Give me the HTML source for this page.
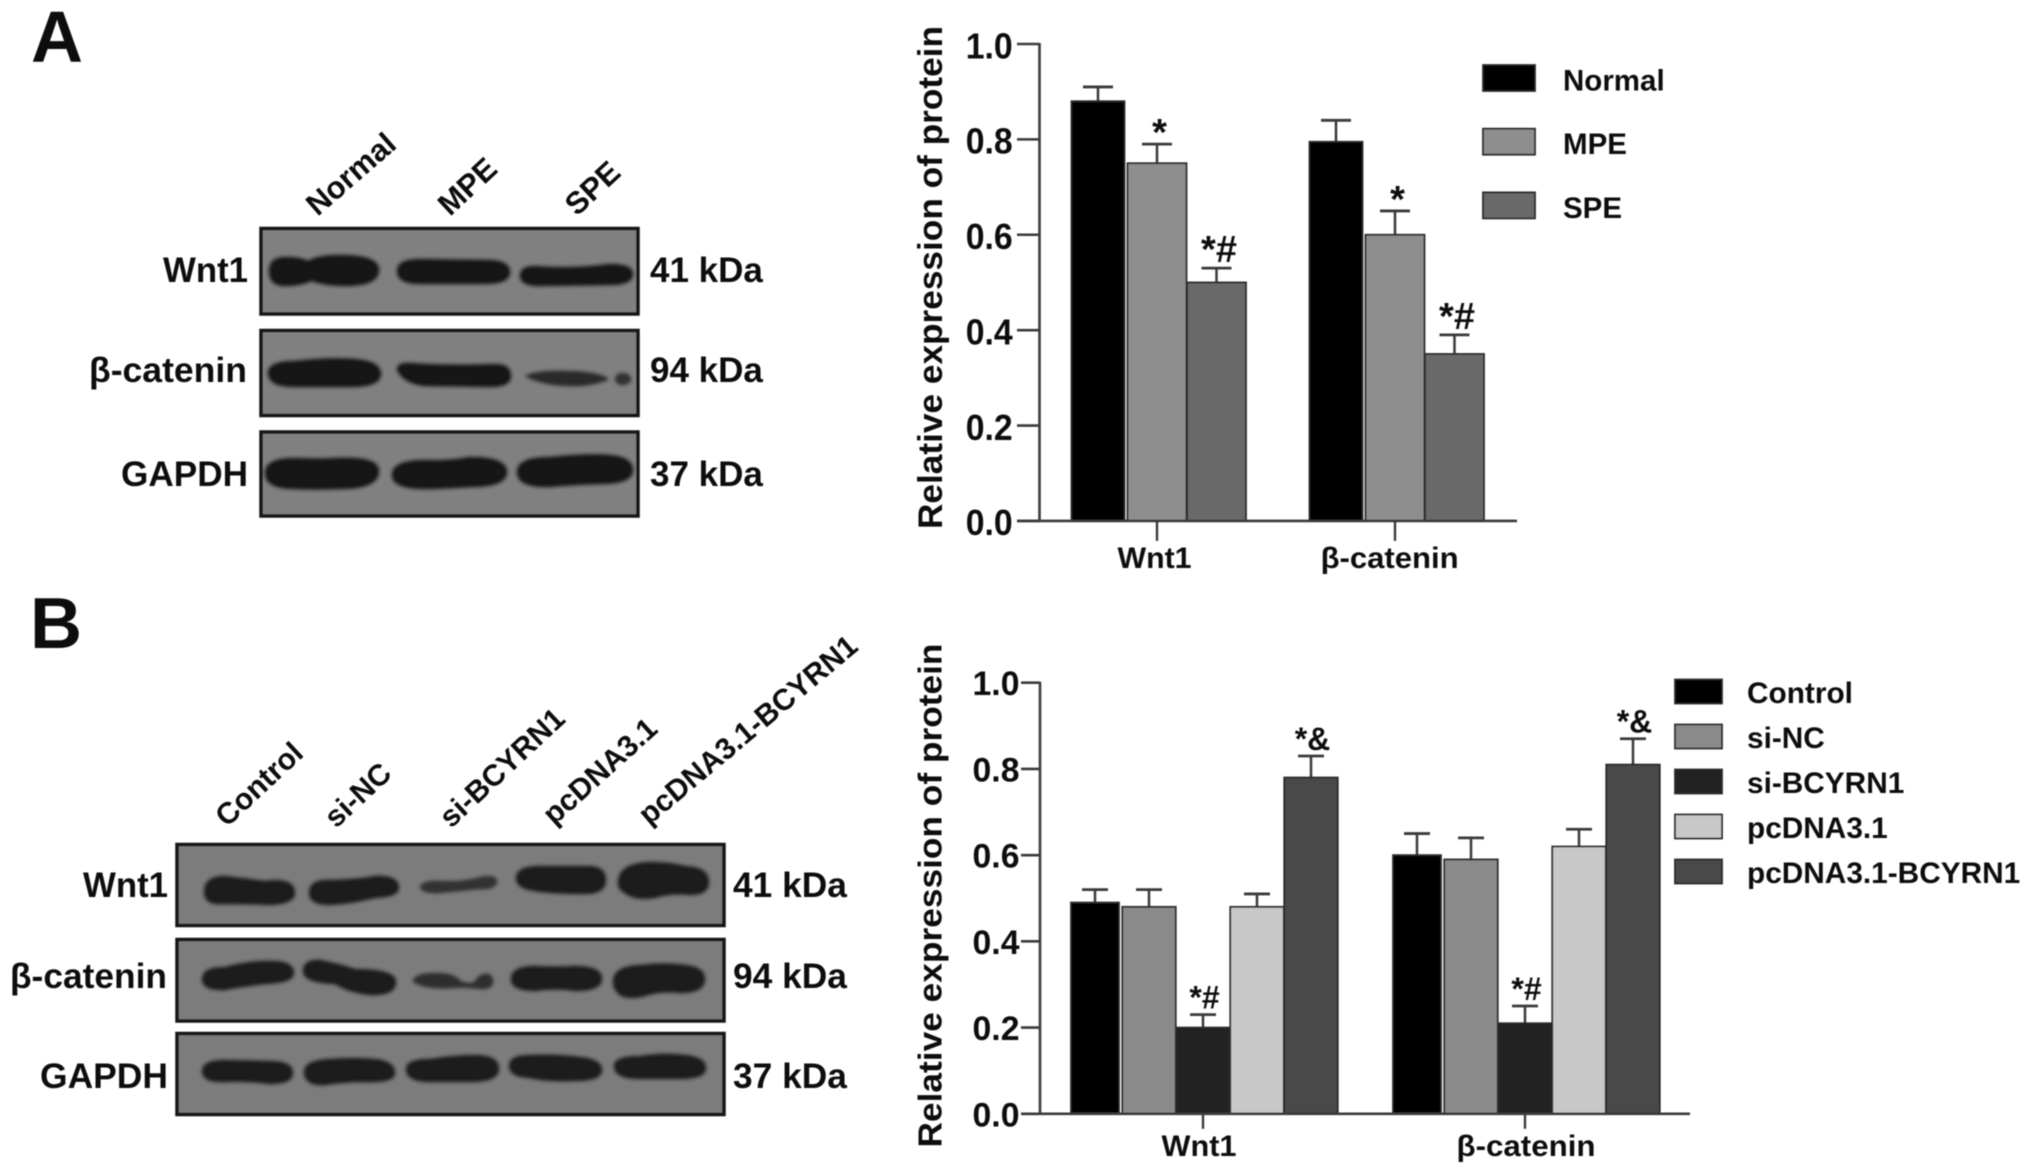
<!DOCTYPE html>
<html lang="en">
<head>
<meta charset="utf-8">
<title>Western blots and relative protein expression</title>
<style>
html,body{margin:0;padding:0;background:#fff;}
#figure{display:block;width:2031px;height:1175px;}
text{font-family:"Liberation Sans",Arial,sans-serif;font-weight:bold;fill:#111;}
</style>
</head>
<body>
<svg id="figure" xmlns="http://www.w3.org/2000/svg" width="2031" height="1175" viewBox="0 0 2031 1175">
<defs>
<filter id="bandBlur" x="-20%" y="-60%" width="140%" height="220%"><feGaussianBlur stdDeviation="1.9"/></filter>
<filter id="softBlur" filterUnits="userSpaceOnUse" x="0" y="0" width="2031" height="1175"><feGaussianBlur stdDeviation="0.5"/></filter>
</defs>
<rect x="0" y="0" width="2031" height="1175" fill="#fff"/>
<g filter="url(#softBlur)">

<text x="31" y="61.5" font-size="72">A</text>
<text x="30" y="648" font-size="72">B</text>

<g>
  <g font-size="31">
    <text transform="translate(317.5 217) rotate(-41)">Normal</text>
    <text transform="translate(450 217) rotate(-43)">MPE</text>
    <text transform="translate(577 217) rotate(-43)">SPE</text>
  </g>
  <rect x="261" y="228.5" width="377" height="85.5" fill="#808080" stroke="#151515" stroke-width="3.5"/>
  <rect x="261" y="330.5" width="377" height="85" fill="#808080" stroke="#151515" stroke-width="3.5"/>
  <rect x="261" y="432" width="377" height="84" fill="#808080" stroke="#151515" stroke-width="3.5"/>
  <g fill="#141414" stroke="#141414" stroke-width="2.5" stroke-linejoin="round" filter="url(#bandBlur)">
    <path d="M270 271Q270 258 286 258Q300 258 308 262Q318 256 340 256Q378 256 378 270Q378 285 345 285Q325 285 312 280Q300 285 285 285Q270 285 270 271Z"/>
    <path d="M398 271Q398 260 420 260L490 261Q509 262 509 272Q509 283 485 283L420 283Q398 283 398 271Z"/>
    <path d="M521 276Q521 267 535 267Q570 270 610 265Q632 265 632 274Q632 284 610 284L540 285Q521 285 521 276Z"/>
    <path d="M269 373Q269 362 295 362Q330 358 355 360Q380 362 380 374Q380 386 350 386L295 386Q269 386 269 373Z"/>
    <path d="M398 370Q398 363 410 364Q450 367 495 365Q510 365 510 376Q510 386 490 386L425 385Q405 383 398 370Z"/>
    <path d="M527 376Q540 371 565 372Q595 372 607 379Q590 386 570 385Q545 385 527 376Z" fill="#2a2a2a" stroke="#2a2a2a"/>
    <ellipse cx="623" cy="379" rx="7" ry="5" fill="#333" stroke="#333"/>
    <path d="M266 473Q266 459 295 459Q320 460 335 459Q378 457 378 471Q378 488 340 488Q310 489 295 488Q266 488 266 473Z"/>
    <path d="M393 475Q393 461 425 461Q450 462 470 458Q506 458 506 472Q506 486 470 486Q440 488 425 488Q393 488 393 475Z"/>
    <path d="M518 472Q518 458 550 458Q590 454 610 456Q632 458 632 470Q632 483 600 483Q570 484 550 486Q518 487 518 472Z"/>
  </g>
  <g font-size="35" text-anchor="end">
    <text x="248" y="282" textLength="85" lengthAdjust="spacingAndGlyphs">Wnt1</text>
    <text x="247" y="382" textLength="158" lengthAdjust="spacingAndGlyphs">β-catenin</text>
    <text x="248" y="486" textLength="127" lengthAdjust="spacingAndGlyphs">GAPDH</text>
  </g>
  <g font-size="35">
    <text x="650" y="282">41 kDa</text>
    <text x="650" y="382">94 kDa</text>
    <text x="650" y="486">37 kDa</text>
  </g>
</g>

<g>
  <g font-size="30">
    <text transform="translate(227 828) rotate(-43)">Control</text>
    <text transform="translate(336 829) rotate(-43)">si-NC</text>
    <text transform="translate(451 829) rotate(-43)">si-BCYRN1</text>
    <text transform="translate(554 826) rotate(-42)">pcDNA3.1</text>
    <text transform="translate(649 826) rotate(-40)">pcDNA3.1-BCYRN1</text>
  </g>
  <rect x="177" y="844.5" width="547" height="81" fill="#7c7c7c" stroke="#151515" stroke-width="3.5"/>
  <rect x="177" y="939.5" width="547" height="81.5" fill="#7c7c7c" stroke="#151515" stroke-width="3.5"/>
  <rect x="177" y="1033.5" width="547" height="81" fill="#7c7c7c" stroke="#151515" stroke-width="3.5"/>
  <g fill="#1e1e1e" stroke="#1e1e1e" stroke-width="2.5" stroke-linejoin="round" filter="url(#bandBlur)">
    <path d="M205 892Q205 877 225 877Q250 880 265 882Q294 878 294 893Q294 903 270 904Q245 903 225 903Q205 905 205 892Z"/>
    <path d="M310 893Q310 880 330 881Q360 880 375 877Q398 876 398 888Q398 896 375 897Q350 903 330 904Q310 904 310 893Z"/>
    <path d="M421 887Q424 881 440 882Q465 883 480 878Q496 875 496 882Q494 889 480 888Q460 890 440 892Q423 893 421 887Z" fill="#303030" stroke="#303030"/>
    <path d="M517 878Q517 866 545 867Q575 867 590 867Q605 868 605 880Q605 893 585 893Q550 893 535 890Q517 888 517 878Z"/>
    <path d="M619 883Q619 864 650 863Q670 863 685 867Q708 868 708 882Q708 894 690 894Q670 892 655 897Q635 900 625 892Q619 889 619 883Z"/>
    <path d="M203 979Q203 968 225 968Q250 961 275 962Q293 963 293 973Q293 982 265 983Q240 986 225 989Q203 990 203 979Z"/>
    <path d="M304 971Q304 960 320 961Q340 965 355 970Q395 970 395 982Q395 995 370 994Q350 992 335 983Q304 982 304 971Z"/>
    <path d="M414 981Q416 974 435 974Q455 974 460 982Q470 986 476 982Q480 974 488 975Q493 978 492 983Q490 989 480 988Q465 986 455 987Q425 989 414 981Z" fill="#2e2e2e" stroke="#2e2e2e"/>
    <path d="M512 979Q512 967 535 967Q555 968 575 967Q601 967 601 979Q601 990 575 990Q555 987 535 990Q512 990 512 979Z"/>
    <path d="M614 982Q614 967 640 966Q665 963 685 966Q704 968 704 979Q704 992 680 992Q660 990 645 995Q625 1000 618 992Q614 988 614 982Z"/>
    <path d="M203 1071Q203 1061 225 1061L270 1062Q292 1062 292 1073Q292 1083 270 1083Q245 1080 225 1081Q203 1082 203 1071Z"/>
    <path d="M305 1072Q305 1061 330 1060Q355 1058 375 1060Q394 1062 394 1073Q394 1082 365 1081Q345 1081 325 1084Q305 1085 305 1072Z"/>
    <path d="M407 1069Q407 1060 430 1060Q455 1056 475 1056Q498 1056 498 1069Q498 1081 470 1081L430 1081Q407 1081 407 1069Z"/>
    <path d="M510 1066Q510 1056 530 1056Q560 1055 580 1058Q601 1060 601 1070Q601 1080 575 1080Q545 1081 530 1077Q510 1076 510 1066Z"/>
    <path d="M615 1066Q615 1057 640 1057Q665 1053 685 1056Q705 1058 705 1068Q705 1078 680 1078L640 1078Q615 1078 615 1066Z"/>
  </g>
  <g font-size="35" text-anchor="end">
    <text x="168" y="897" textLength="85" lengthAdjust="spacingAndGlyphs">Wnt1</text>
    <text x="167" y="988" textLength="157" lengthAdjust="spacingAndGlyphs">β-catenin</text>
    <text x="168" y="1088" textLength="128" lengthAdjust="spacingAndGlyphs">GAPDH</text>
  </g>
  <g font-size="35.3">
    <text x="733" y="897">41 kDa</text>
    <text x="733" y="988">94 kDa</text>
    <text x="733" y="1088">37 kDa</text>
  </g>
</g>

<g id="chart-a"></g>
<g id="chart-b"></g>
</g>
</svg>

<script>
// Panel A data
const categoriesA = ['Wnt1', 'β-catenin'];
const seriesNamesA = ['Normal', 'MPE', 'SPE'];
const wnt1ValuesA = [0.88, 0.75, 0.50];
const catheninValuesA = [0.795, 0.60, 0.35];
const wnt1ErrorTopsA = [0.91, 0.79, 0.53];
const catheninErrorTopsA = [0.84, 0.65, 0.39];
const wnt1MarksA = ['', '*', '*#'];
const catheninMarksA = ['', '*', '*#'];
const tickLabelsA = ['0.0', '0.2', '0.4', '0.6', '0.8', '1.0'];

// Panel B data
const categoriesB = ['Wnt1', 'β-catenin'];
const seriesNamesB = ['Control', 'si-NC', 'si-BCYRN1', 'pcDNA3.1', 'pcDNA3.1-BCYRN1'];
const wnt1ValuesB = [0.49, 0.48, 0.20, 0.48, 0.78];
const catheninValuesB = [0.60, 0.59, 0.21, 0.62, 0.81];
const wnt1ErrorTopsB = [0.52, 0.52, 0.23, 0.51, 0.83];
const catheninErrorTopsB = [0.65, 0.64, 0.25, 0.66, 0.87];
const wnt1MarksB = ['', '', '*#', '', '*&'];
const catheninMarksB = ['', '', '*#', '', '*&'];
const tickLabelsB = ['0.0', '0.2', '0.4', '0.6', '0.8', '1.0'];

const SVG_NS = 'http://www.w3.org/2000/svg';
function mk(tag, attrs, parent, txt) {
  const el = document.createElementNS(SVG_NS, tag);
  for (const k in attrs) el.setAttribute(k, attrs[k]);
  if (txt !== undefined) el.textContent = txt;
  parent.appendChild(el);
  return el;
}
function slug(s) {
  return s.toLowerCase().replace('β', 'beta').replace(/[^a-z0-9]+/g, '-');
}

function drawChart(root, layout, categories, seriesNames, values, errorTops, marks, tickLabels) {
  const yScale = v => layout.y0 - v * (layout.y0 - layout.y1);
  const groupX = i => layout.gx0 + i * layout.gStep;
  const barX = (i, s) => groupX(i) + (s - (seriesNames.length - 1) / 2) * layout.barStep + (s === 0 ? layout.firstShift : 0);
  const axisColor = '#3a3a3a';

  // bars, error bars, annotations
  categories.forEach((cat, i) => {
    seriesNames.forEach((name, s) => {
      const w = s === 0 ? layout.firstWidth : layout.barWidth;
      const cx = barX(i, s);
      const top = yScale(values[i][s]);
      const errTop = yScale(errorTops[i][s]);
      const stem = mk('line', {x1: cx, x2: cx, y1: top, y2: errTop, stroke: axisColor, 'stroke-width': 2.5}, root);
      
      
      const cap = mk('line', {x1: cx - layout.capHalf, x2: cx + layout.capHalf, y1: errTop, y2: errTop, stroke: axisColor, 'stroke-width': 2.8}, root);
      
      
      const bar = mk('rect', {x: cx - w / 2, y: top, width: w, height: yScale(0) - top, fill: layout.colors[s], stroke: '#2c2c2c', 'stroke-width': 1.8}, root);
      
      
      const m = marks[i][s];
      if (m) {
        const by = errTop + (m === '*' ? 1 : -6);
        const mark = mk('text', {x: cx + layout.markDx, y: by, 'font-size': layout.markSize, 'text-anchor': 'middle'}, root, m);
        
        
      }
    });
  });

  // y axis
  const yAxis = mk('line', {x1: layout.axisX, x2: layout.axisX, y1: yScale(1) - 1, y2: yScale(0) + 1, stroke: axisColor, 'stroke-width': 2.6}, root);
  
  
  tickLabels.forEach(label => {
    const v = parseFloat(label);
    const y = yScale(v);
    const t = mk('line', {x1: layout.tickLeft, x2: layout.axisX, y1: y, y2: y, stroke: axisColor, 'stroke-width': 2.6}, root);
    
    
    const l = mk('text', {x: layout.tickLabelRight, y: y + layout.tickLabelDy, 'font-size': layout.tickSize, 'text-anchor': 'end', textLength: layout.tickLabelWidth, lengthAdjust: 'spacingAndGlyphs'}, root, label);
    
    
  });

  // x axis
  const xAxis = mk('line', {x1: layout.tickLeft, x2: layout.axisRight, y1: yScale(0), y2: yScale(0), stroke: axisColor, 'stroke-width': 2.6}, root);
  
  
  categories.forEach((cat, i) => {
    const xt = mk('line', {x1: groupX(i), x2: groupX(i), y1: yScale(0), y2: yScale(0) + layout.xTickLen, stroke: axisColor, 'stroke-width': 2.4}, root);
    
    
    const xl = mk('text', {x: groupX(i) + layout.xLabelDx[i], y: layout.xLabelY, 'font-size': layout.xLabelSize, 'text-anchor': 'middle', textLength: layout.xLabelWidth[i], lengthAdjust: 'spacingAndGlyphs'}, root, cat);
    
    
  });

  // y title
  const title = mk('text', {transform: 'translate(' + layout.titleX + ' ' + layout.titleBottom + ') rotate(-90)', 'font-size': layout.titleSize, textLength: layout.titleLength, lengthAdjust: 'spacingAndGlyphs'}, root, 'Relative expression of protein');
  
  

  // legend
  seriesNames.forEach((name, s) => {
    const top = layout.legendTop + s * layout.legendStep;
    const sw = mk('rect', {x: layout.legendX, y: top, width: layout.legendW, height: layout.legendH, fill: layout.colors[s], stroke: '#2c2c2c', 'stroke-width': 1.8}, root);
    
    
    const lt = mk('text', {x: layout.legendTextX, y: top + layout.legendTextDy, 'font-size': layout.legendSize}, root, name);
    
    
  });
}

const layoutA = {
  y0: 520.9, y1: 44, axisX: 1039.5, tickLeft: 1017, axisRight: 1517,
  gx0: 1157, gStep: 238, barStep: 59.5, barWidth: 59, firstWidth: 53, firstShift: 0.5, capHalf: 15,
  colors: ['#000000', '#8e8e8e', '#696969'], markSize: 38, markDx: 2.5,
  tickSize: 36.5, tickLabelRight: 1012.7, tickLabelWidth: 47, tickLabelDy: 14.3, xTickLen: 20,
  xLabelDx: [-2.5, -5.4], xLabelWidth: [74, 138], xLabelY: 568, xLabelSize: 30,
  titleX: 942, titleBottom: 529, titleSize: 34.5, titleLength: 503,
  legendX: 1483, legendW: 52, legendH: 26, legendTop: 65, legendStep: 63.7,
  legendTextX: 1563, legendTextDy: 25.5, legendSize: 29.5
};
const layoutB = {
  y0: 1113.8, y1: 682.7, axisX: 1040, tickLeft: 1021, axisRight: 1690,
  gx0: 1203, gStep: 322, barStep: 54, barWidth: 53.5, firstWidth: 48, firstShift: 0, capHalf: 13,
  colors: ['#000000', '#8a8a8a', '#222222', '#c8c8c8', '#4a4a4a'], markSize: 32, markDx: 1.5,
  tickSize: 34, tickLabelRight: 1019.5, tickLabelWidth: 47, tickLabelDy: 12.5, xTickLen: 15,
  xLabelDx: [-4, 1], xLabelWidth: [75, 139], xLabelY: 1156, xLabelSize: 30,
  titleX: 941.5, titleBottom: 1147.5, titleSize: 33, titleLength: 504,
  legendX: 1675, legendW: 47, legendH: 24, legendTop: 679.5, legendStep: 45,
  legendTextX: 1747, legendTextDy: 23.5, legendSize: 29.8
};

drawChart(document.getElementById('chart-a'), layoutA, categoriesA, seriesNamesA,
  [wnt1ValuesA, catheninValuesA], [wnt1ErrorTopsA, catheninErrorTopsA], [wnt1MarksA, catheninMarksA], tickLabelsA);
drawChart(document.getElementById('chart-b'), layoutB, categoriesB, seriesNamesB,
  [wnt1ValuesB, catheninValuesB], [wnt1ErrorTopsB, catheninErrorTopsB], [wnt1MarksB, catheninMarksB], tickLabelsB);
</script>
</body>
</html>
